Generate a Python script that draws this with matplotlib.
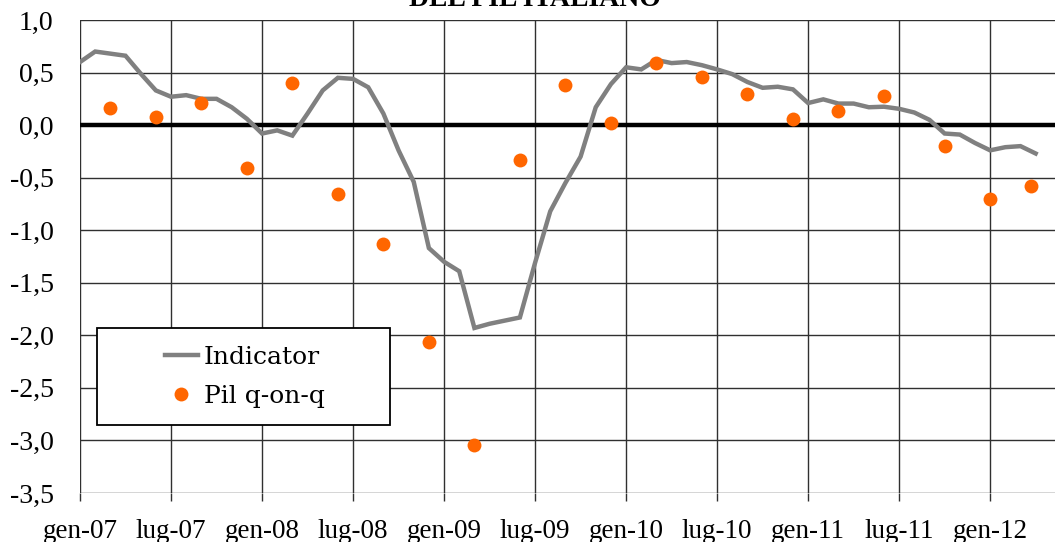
import matplotlib
matplotlib.use("Agg")
import matplotlib.pyplot as plt
from matplotlib.patches import Rectangle

# indicatore mensile (mesi da gen-07)
indicator = [0.60, 0.70, 0.68, 0.66, 0.49, 0.33, 0.27, 0.285, 0.25, 0.25,
             0.17, 0.06, -0.08, -0.05, -0.10, 0.11, 0.33, 0.45, 0.44, 0.36,
             0.11, -0.24, -0.54, -1.17, -1.30, -1.39, -1.93, -1.89, -1.86, -1.83,
             -1.31, -0.82, -0.55, -0.30, 0.17, 0.39, 0.55, 0.53, 0.62, 0.59,
             0.60, 0.57, 0.53, 0.485, 0.41, 0.355, 0.365, 0.34, 0.21, 0.245,
             0.205, 0.205, 0.17, 0.175, 0.155, 0.12, 0.05, -0.08, -0.09, -0.17,
             -0.24, -0.21, -0.20, -0.27]
months = list(range(len(indicator)))

# Pil q-on-q (trimestrale)
pil_months = [2, 5, 8, 11, 14, 17, 20, 23, 26, 29, 32, 35, 38, 41, 44, 47,
              50, 53, 57, 60, 62.7]
pil = [0.16, 0.08, 0.21, -0.41, 0.40, -0.66, -1.13, -2.06, -3.04, -0.33,
       0.38, 0.02, 0.59, 0.46, 0.30, 0.06, 0.13, 0.28, -0.20, -0.70, -0.58]

xtick_pos = [0, 6, 12, 18, 24, 30, 36, 42, 48, 54, 60]
xtick_lab = ['gen-07', 'lug-07', 'gen-08', 'lug-08', 'gen-09', 'lug-09',
             'gen-10', 'lug-10', 'gen-11', 'lug-11', 'gen-12']
ytick_pos = [1.0, 0.5, 0.0, -0.5, -1.0, -1.5, -2.0, -2.5, -3.0, -3.5]
ytick_lab = ['1,0', '0,5', '0,0', '-0,5', '-1,0', '-1,5', '-2,0', '-2,5',
             '-3,0', '-3,5']

plt.rcParams['font.family'] = ['Liberation Serif', 'DejaVu Serif']

W, H = 1055, 542
fig = plt.figure(figsize=(W / 100, H / 100), dpi=100)
ax = fig.add_axes([80 / W, 49 / H, 986 / W, 473 / H])

ax.set_xlim(0, 65)
ax.set_ylim(-3.5, 1.0)

for x in xtick_pos:
    ax.axvline(x, color='#303030', lw=1.0, zorder=1)
for y in ytick_pos:
    ax.axhline(y, color='#303030', lw=1.0, zorder=1)
ax.axhline(0, color='black', lw=3.2, zorder=2)

ax.plot(months, indicator, color='#808080', lw=3.2, label='Indicator',
        zorder=3, solid_joinstyle='miter')
ax.plot(pil_months, pil, 'o', color='#ff6600', markersize=10,
        markeredgewidth=0, label='Pil q-on-q', zorder=4)

for s in ax.spines.values():
    s.set_visible(False)

ax.set_xticks(xtick_pos)
ax.set_xticklabels(xtick_lab, fontsize=19.5)
ax.set_yticks(ytick_pos)
ax.set_yticklabels(ytick_lab, fontsize=20)
ax.tick_params(axis='x', length=6, width=1, color='#303030', pad=13)
ax.tick_params(axis='y', length=0, pad=19)

# legend box (pixel coords of the reference)
box = Rectangle((97 / W, 1 - 425 / H), 293 / W, 97 / H, transform=fig.transFigure,
                facecolor='white', edgecolor='black', lw=1.3, zorder=5)
fig.patches.append(box)
leg = fig.legend(*ax.get_legend_handles_labels(), loc='center',
                 bbox_to_anchor=(245 / W, 1 - 377 / H),
                 prop={'family': 'DejaVu Serif', 'size': 18}, frameon=False,
                 handlelength=1.3, handletextpad=0.25, labelspacing=0.65,
                 borderpad=0)
leg.set_zorder(6)

fig.text(0.507, 1 - 6 / H, 'DEL PIL ITALIANO', ha='center', va='baseline',
         fontsize=20, fontweight='bold')

fig.savefig('out.png', dpi=100)
